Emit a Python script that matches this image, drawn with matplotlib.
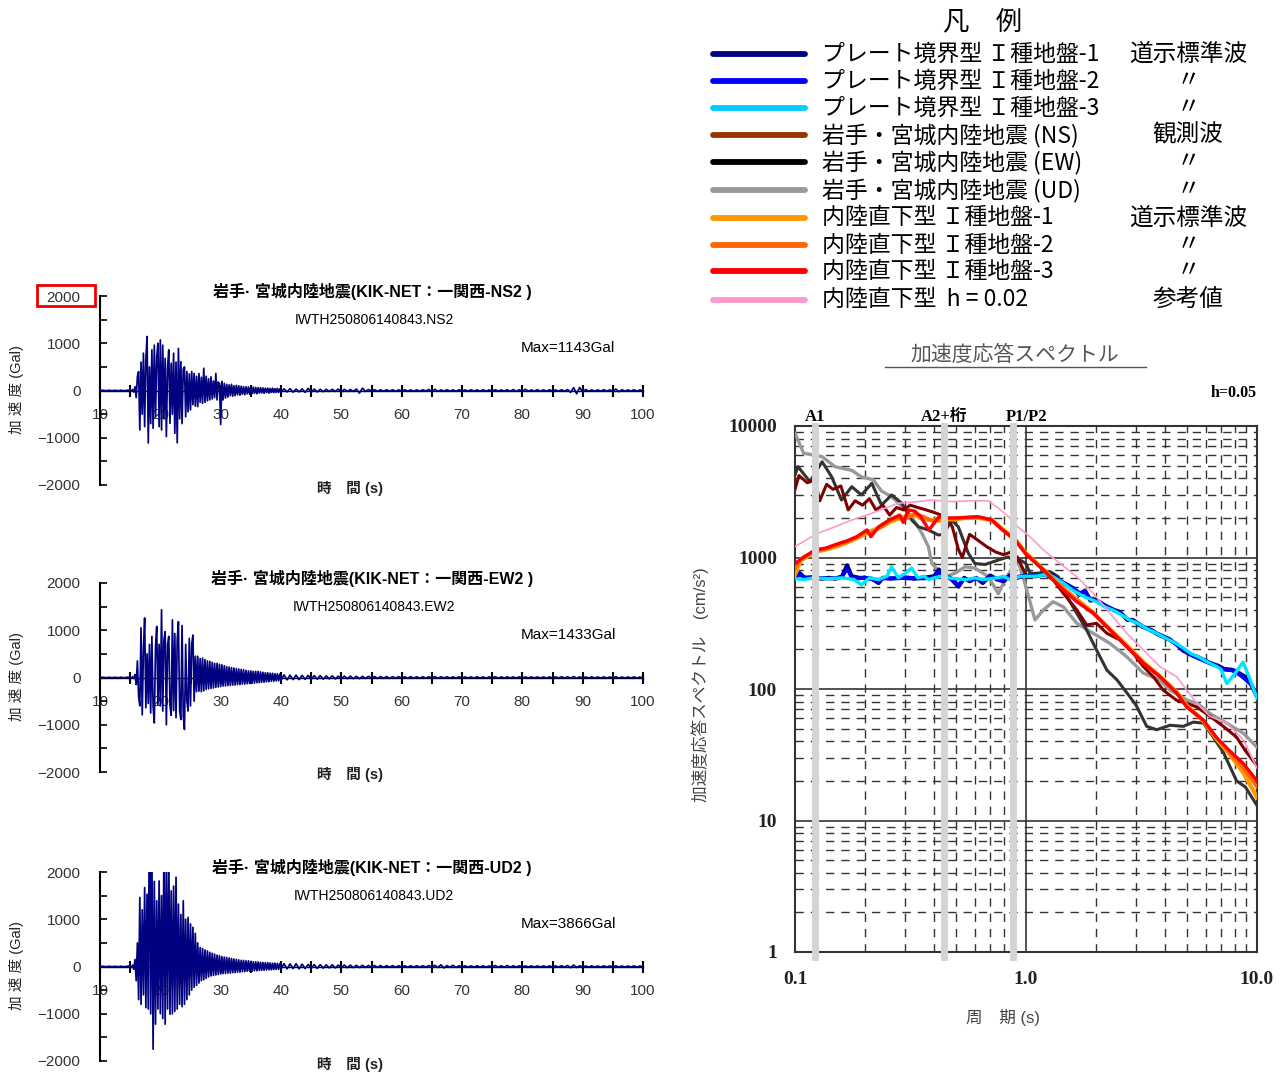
import numpy as np
import matplotlib
matplotlib.use('Agg')
import matplotlib.pyplot as plt
from matplotlib.patches import Rectangle
from matplotlib.lines import Line2D
from matplotlib.ticker import FixedLocator, FixedFormatter, NullFormatter, LogLocator

plt.rcParams['font.family'] = ['Liberation Sans', 'Noto Sans CJK JP']
plt.rcParams['axes.unicode_minus'] = True

# ---------------- waveform data (Gal) ----------------
wave_pre = [0, 5, -5, 5, -5, 5, -5, 5, -5, 5]          # 10.0 .. 14.5 s, step 0.5

ns_main = [10, -15, 20, -30, 80, -150, 300, 400, -835, 600,
           -500, 790, -765, 650, 1143, -1110, 500, -700, 860, -800,
           960, -555, 700, 1000, -765, 1070, -835, 960, -600, 680,
           -975, 500, 860, -695, 575, -500, 790, -905, 600, -1105,
           890, -600, 610, -700, 450, 500, -555, 400, -450, 350,
           -410, 400, -300, 360, -330, 300, -340, 360, -250, 280,
           -270, 470, -250, 300, -220, 250, -200, 290, -180, 200,
           -150, 360, -200, 180, 150, -720, 190, -200, 150, -160,
           130, -140, 120, -110, 130, -120, 100, -110, 110, -90,
           100, -100, 90, -80, 80, -90, 80, -70, 75, -80,
           70, -65, 70, -60, 65, -70, 60, -55, 60, -50,
           55, -60, 50, -45, 50, -55, 45, -40, 50, -45,
           40, -40, 45, -40, 35, -40]
ns_tail = [35, -30, 40, -35, 30, -30, 35, -40, 45, -35,
           30, -30, 25, -25, 25, -20, 25, -20, 30, -35,
           25, -20, 20, -20, 30, -55, 50, -20, 20, -15,
           18, -15, 15, -15, 15, -12, 15, -15, 12, -12,
           15, -12, 12, -15, 12, -12, 15, -12, 20, -25,
           25, -15, 12, -12, 15, -12, 12, -15, 15, -12,
           12, -12, 15, -12, 12, -12, 15, -12, 12, -12,
           15, -12, 12, -12, 15, -15, 20, -18, 15, -20,
           25, -15, 12, -12, 15, -12, 12, -12, 15, -12,
           12, -12, 15, -15, 20, -40, 60, -70, 65, -30,
           20, -15, 12, -12, 12, -12, 15, -12, 12, -15,
           30, -25, 15, -12, 12, -12, 15, -12, 12, -10]

ew_main = [10, -10, 15, -20, 60, -150, 350, -400, -600, 1050,
           -790, 600, 1260, -640, 500, -550, 700, -750, 870, -600,
           -960, 650, 1080, -570, 700, -600, 1433, -710, 800, 970,
           -1000, 700, 870, -600, -800, 1220, -700, 930, -850, 800,
           1180, -700, -890, 1100, -800, -1100, 700, -500, -710, 830,
           -600, 700, 900, -500, 450, -300, 450, -290, 400, -300,
           410, -280, 380, -250, 350, -240, 340, -230, 320, -220,
           300, -210, 300, -200, 280, -190, 270, -180, 250, -180,
           230, -170, 220, -170, 210, -160, 200, -160, 190, -150,
           180, -150, 170, -140, 165, -140, 150, -130, 140, -130,
           140, -120, 130, -120, 130, -110, 130, -110, 120, -100,
           110, -100, 100, -90, 100, -90, 90, -80, 90, -80,
           80, -70, 80, -70, 70, -60]
ew_tail = [55, -50, 50, -45, 50, -45, 45, -40, 45, -40,
           40, -35, 40, -35, 35, -30, 35, -30, 30, -30,
           30, -25, 30, -25, 25, -25, 25, -20, 25, -20,
           20, -20, 20, -18, 20, -18, 18, -15, 18, -15,
           15, -15, 18, -15, 15, -15, 15, -12, 15, -12,
           20, -18, 15, -12, 15, -12, 12, -12, 15, -12,
           12, -12, 12, -12, 15, -12, 12, -12, 12, -10,
           15, -12, 12, -10, 12, -10, 12, -12, 15, -12,
           12, -10, 12, -10, 12, -10, 10, -10, 12, -10,
           12, -10, 15, -12, 15, -15, 20, -15, 12, -10,
           10, -10, 12, -10, 10, -10, 12, -10, 10, -10,
           15, -12, 10, -10, 10, -10, 12, -10, 10, -8]

ud_main = [10, -20, 30, -60, 150, -300, 500, -700, 1460, -800,
           1200, -600, 1670, -870, 1530, -900, 3866, -1000, 2500, -1750,
           1800, -1220, 1390, -900, 1810, -1000, 1500, -1100, 2600, -1220,
           2200, -900, 2400, -1010, 1600, -1000, 1700, -950, 1890, -900,
           1320, -800, 1100, -850, 1390, -800, 1000, -700, 1040, -600,
           900, -500, 830, -440, 700, -400, 500, -350, 400, -300,
           380, -280, 350, -250, 330, -220, 300, -200, 280, -190,
           260, -180, 240, -170, 230, -160, 210, -150, 200, -150,
           190, -140, 180, -140, 170, -130, 160, -130, 150, -120,
           140, -120, 130, -110, 130, -110, 120, -100, 120, -100,
           110, -100, 100, -90, 100, -90, 95, -85, 90, -80,
           85, -80, 80, -75, 80, -70, 75, -70, 70, -65,
           70, -60, 65, -60, 60, -55]
ud_tail = [60, -50, 55, -45, 60, -50, 50, -45, 45, -40,
           40, -40, 40, -35, 35, -30, 35, -30, 30, -30,
           30, -25, 28, -25, 25, -22, 25, -20, 22, -20,
           20, -18, 20, -18, 18, -15, 18, -15, 15, -15,
           15, -15, 15, -12, 15, -12, 15, -12, 18, -15,
           25, -20, 35, -30, 20, -15, 25, -20, 15, -12,
           15, -12, 12, -12, 15, -12, 12, -12, 12, -10,
           20, -15, 15, -12, 20, -15, 15, -12, 15, -12,
           12, -10, 12, -10, 12, -10, 12, -10, 12, -10,
           12, -10, 15, -12, 20, -25, 30, -20, 15, -12,
           10, -10, 12, -10, 10, -10, 12, -10, 10, -10,
           12, -10, 10, -10, 10, -10, 12, -10, 10, -8]

wave_titles = ['岩手· 宮城内陸地震(KIK-NET：一関西-NS2 )',
               '岩手· 宮城内陸地震(KIK-NET：一関西-EW2 )',
               '岩手· 宮城内陸地震(KIK-NET：一関西-UD2 )']
wave_files = ['IWTH250806140843.NS2', 'IWTH250806140843.EW2', 'IWTH250806140843.UD2']
wave_max = ['Max=1143Gal', 'Max=1433Gal', 'Max=3866Gal']
wave_xticks = [10, 20, 30, 40, 50, 60, 70, 80, 90, 100]
wave_yticks = [-2000, -1000, 0, 1000, 2000]

# ---------------- response spectrum data (cm/s^2) ----------------
T_ud = [0.100, 0.109, 0.122, 0.131, 0.149, 0.176, 0.194, 0.218, 0.237, 0.262, 0.290, 0.320,
        0.354, 0.378, 0.391, 0.417, 0.446, 0.493, 0.545, 0.601, 0.687, 0.759, 0.811, 0.860,
        0.920, 0.974, 1.094, 1.19, 1.31, 1.45, 1.66, 1.955, 2.31, 2.73, 3.22, 3.80, 4.2,
        5.0, 5.5, 6.26, 7.39, 8.74, 10.0]
S_ud = [8800, 6200, 6000, 5850, 4900, 4600, 4100, 3900, 3200, 2900, 2450, 2050,
        1530, 1210, 900, 800, 715, 760, 850, 830, 715, 530, 675, 800,
        950, 700, 335, 400, 461, 422, 316, 265, 222, 176, 132, 117, 98,
        82, 78, 65, 55, 46, 36]

T_ew = [0.100, 0.103, 0.116, 0.131, 0.144, 0.159, 0.176, 0.194, 0.215, 0.237, 0.262, 0.290,
        0.320, 0.342, 0.378, 0.417, 0.440, 0.476, 0.509, 0.563, 0.601, 0.665, 0.759, 0.838,
        0.896, 0.950, 1.00, 1.04, 1.11, 1.27, 1.38, 1.45, 1.66, 1.83, 2.02, 2.24, 2.48,
        2.82, 3.0, 3.33, 3.68, 4.20, 4.80, 5.30, 5.86, 6.47, 7.15, 8.16, 8.9, 10.0]
S_ew = [4240, 4910, 3775, 5350, 4120, 2735, 3455, 2990, 3665, 2505, 2990, 2585,
        1928, 1714, 1620, 1483, 1500, 1928, 1714, 1076, 900, 885, 957, 1010,
        930, 950, 900, 760, 758, 782, 714, 566, 376, 281, 198, 139, 117,
        87, 75, 52, 49, 53, 52, 56, 55, 43, 33, 20, 18, 13]

T_ns = [0.100, 0.104, 0.113, 0.122, 0.128, 0.137, 0.146, 0.158, 0.170, 0.182, 0.196, 0.210,
        0.224, 0.240, 0.257, 0.275, 0.295, 0.315, 0.340, 0.370, 0.400, 0.430, 0.460, 0.480,
        0.510, 0.530, 0.570, 0.620, 0.680, 0.740, 0.800, 0.860, 0.920, 1.007, 1.11, 1.19,
        1.31, 1.45, 1.66, 1.83, 2.02, 2.24, 2.55, 2.91, 3.22, 3.56, 3.93, 4.49, 4.96, 5.48,
        6.26, 7.15, 8.16, 8.9, 10.0]
S_ns = [3300, 4200, 3700, 3900, 2700, 3600, 3300, 3500, 2300, 2700, 2500, 2800,
        2300, 2500, 2100, 2400, 2300, 2500, 2400, 2300, 2200, 2100, 2000, 1700,
        1150, 1000, 1500, 1350, 1200, 1100, 1050, 1100, 1000, 714, 736, 758,
        675, 535, 399, 307, 316, 265, 236, 187, 148, 124, 98, 82, 78, 73,
        62, 52, 43, 34, 26]

T_pl1 = [0.100, 0.105, 0.110, 0.120, 0.130, 0.140, 0.150, 0.160, 0.168, 0.176, 0.190, 0.200,
         0.215, 0.230, 0.240, 0.260, 0.280, 0.300, 0.330, 0.360, 0.400, 0.420, 0.440, 0.470,
         0.510, 0.540, 0.570, 0.610, 0.650, 0.700, 0.750, 0.800, 0.850, 0.900, 0.950, 1.00,
         1.10, 1.20, 1.30, 1.45, 1.60, 1.70, 1.80, 1.90, 2.00, 2.20, 2.40, 2.55, 2.75, 2.90,
         3.20, 3.50, 3.70, 4.20, 4.50, 4.80, 5.20, 5.50, 6.30, 6.80, 7.20, 7.80, 8.20, 8.80,
         9.40, 10.0]
S_pl1 = [720, 760, 700, 710, 690, 700, 690, 720, 870, 720, 700, 700,
         690, 640, 700, 690, 700, 700, 690, 700, 720, 810, 720, 700,
         600, 700, 660, 700, 640, 730, 680, 660, 730, 700, 720, 730,
         720, 750, 730, 640, 580, 520, 560, 470, 480, 430, 400, 385, 335, 335,
         297, 280, 262, 236, 218, 195, 182, 176, 157, 150, 142, 140, 135, 125,
         110, 88]
S_pl2 = [700, 740, 710, 690, 700, 690, 700, 710, 820, 700, 690, 710,
         680, 660, 690, 700, 690, 710, 700, 690, 700, 780, 700, 690,
         620, 690, 670, 690, 660, 720, 690, 670, 720, 690, 710, 720,
         730, 740, 720, 650, 590, 540, 550, 480, 470, 435, 395, 380, 340, 330,
         300, 275, 265, 240, 215, 200, 180, 172, 155, 148, 140, 138, 132, 120,
         108, 90]

T_pl3 = [0.100, 0.110, 0.120, 0.140, 0.160, 0.180, 0.194, 0.210, 0.230, 0.250, 0.262, 0.280,
         0.300, 0.320, 0.340, 0.360, 0.380, 0.400, 0.430, 0.460, 0.500, 0.550, 0.600, 0.650,
         0.700, 0.750, 0.800, 0.850, 0.900, 0.950, 1.00, 1.10, 1.20, 1.30, 1.45, 1.60, 1.80,
         2.00, 2.20, 2.40, 2.60, 2.80, 3.00, 3.30, 3.60, 4.00, 4.40, 4.80, 5.20, 5.60, 6.20,
         6.70, 7.00, 7.40, 8.00, 8.70, 9.30, 10.0]
S_pl3 = [690, 680, 700, 690, 700, 680, 620, 700, 680, 720, 850, 700,
         760, 830, 700, 720, 680, 700, 720, 700, 690, 680, 700, 680,
         690, 700, 720, 680, 700, 720, 720, 720, 740, 720, 640, 560, 500,
         465, 420, 395, 365, 335, 320, 290, 270, 245, 225, 205, 185, 175, 158,
         148, 140, 110, 130, 160, 120, 85]

T_in = [0.100, 0.106, 0.122, 0.136, 0.149, 0.168, 0.185, 0.200, 0.215, 0.235, 0.256, 0.275,
        0.300, 0.330, 0.360, 0.390, 0.420, 0.450, 0.500, 0.550, 0.620, 0.710, 0.790, 0.896,
        1.000, 1.19, 1.40, 1.66, 1.955, 2.31, 2.73, 3.22, 3.80, 4.49, 4.96, 5.86, 6.66,
        7.60, 8.74, 10.0]
S_in1 = [740, 950, 1100, 1150, 1200, 1300, 1400, 1500, 1600, 1700, 1850, 1950,
         2050, 2100, 1950, 1930, 1900, 1950, 1950, 2000, 2000, 1930, 1650, 1380,
         1080, 810, 620, 480, 380, 285, 215, 160, 125, 95, 75, 57, 42,
         32, 23, 15]
S_in2 = [820, 980, 1120, 1160, 1230, 1320, 1420, 1560, 1550, 1690, 1900, 2000,
         1950, 2150, 2050, 1900, 1950, 1980, 1980, 2010, 2020, 1940, 1640, 1370,
         1070, 805, 610, 470, 378, 283, 212, 158, 124, 94, 74, 57, 43,
         33, 25, 18]
T_in3 = [0.100, 0.110, 0.122, 0.136, 0.149, 0.168, 0.185, 0.205, 0.213, 0.230, 0.256, 0.284,
         0.294, 0.310, 0.330, 0.350, 0.380, 0.420, 0.450, 0.500, 0.550, 0.620, 0.710, 0.790,
         0.896, 1.000, 1.19, 1.40, 1.66, 1.955, 2.31, 2.73, 3.22, 3.80, 4.49, 4.96, 5.86,
         6.66, 7.60, 8.74, 10.0]
S_in3 = [900, 1015, 1140, 1180, 1250, 1340, 1440, 1620, 1440, 1710, 1930, 2100,
         1850, 2300, 2250, 2045, 1620, 2045, 2000, 2000, 2020, 2045, 1930, 1620,
         1360, 1060, 803, 600, 461, 377, 281, 210, 157, 124, 93, 73, 58,
         43, 34, 27, 20]

T_ref = [0.100, 0.125, 0.149, 0.176, 0.215, 0.245, 0.280, 0.340, 0.390, 0.476, 0.580, 0.687,
         0.760, 0.840, 0.920, 1.04, 1.19, 1.40, 1.66, 1.955, 2.31, 2.73, 3.22, 3.80, 4.49,
         5.48, 6.26, 7.39, 8.74, 10.0]
S_ref = [1210, 1525, 1714, 1928, 2170, 2370, 2585, 2660, 2735, 2660, 2700, 2700,
         2370, 2045, 1714, 1440, 1140, 903, 714, 535, 377, 265, 198, 148, 124,
         78, 62, 55, 41, 25]

band_periods = [0.122, 0.442, 0.879]
band_labels = ['A1', 'A2+桁', 'P1/P2']

legend_left = ['プレート境界型 Ｉ種地盤-1', 'プレート境界型 Ｉ種地盤-2', 'プレート境界型 Ｉ種地盤-3',
               '岩手・宮城内陸地震 (NS)', '岩手・宮城内陸地震 (EW)', '岩手・宮城内陸地震 (UD)',
               '内陸直下型 Ｉ種地盤-1', '内陸直下型 Ｉ種地盤-2', '内陸直下型 Ｉ種地盤-3',
               '内陸直下型  h = 0.02']
legend_right = ['道示標準波', '〃', '〃', '観測波', '〃', '〃', '道示標準波', '〃', '〃', '参考値']
legend_colors = ['#000080', '#0000FF', '#00CCFF', '#993300', '#000000', '#999999',
                 '#FF9900', '#FF6600', '#FF0000', '#FF99CC']

# ---------------- figure ----------------
W, H = 1287, 1075
fig = plt.figure(figsize=(W / 100, H / 100), dpi=100)


def fx(x):
    return x / W


def fy(y):
    return 1 - y / H


def ptext(x, y, s, **kw):
    fig.text(fx(x), fy(y), s, **kw)


wave_sets = [(ns_main, ns_tail), (ew_main, ew_tail), (ud_main, ud_tail)]
panel_tops = [296, 583, 872]
for k, (main, tail) in enumerate(wave_sets):
    top = panel_tops[k]
    off = top - 296
    ax = fig.add_axes([fx(100), fy(top + 189), fx(643) - fx(100), 189 / H])
    t_pre = 10.0 + 0.5 * np.arange(len(wave_pre))
    t_main = 15.0 + 0.2 * np.arange(len(main))
    t_tail = 40.5 + 0.5 * np.arange(len(tail))
    t = np.concatenate([t_pre, t_main, t_tail])
    a = np.concatenate([wave_pre, main, tail])
    ax.plot(t, a, color='#000080', lw=1.25, zorder=3)
    ax.set_xlim(10, 100)
    ax.set_ylim(-2000, 2000)
    for s in ['top', 'right']:
        ax.spines[s].set_visible(False)
    ax.spines['left'].set_linewidth(1.5)
    ax.spines['bottom'].set_position(('data', 0))
    ax.spines['bottom'].set_linewidth(1.0)
    ax.xaxis.set_major_locator(FixedLocator(wave_xticks))
    ax.xaxis.set_minor_locator(FixedLocator([v + 5 for v in wave_xticks[:-1]]))
    ax.yaxis.set_major_locator(FixedLocator(wave_yticks))
    ax.yaxis.set_minor_locator(FixedLocator([-1500, -500, 500, 1500]))
    ax.tick_params(axis='x', which='both', direction='inout', length=9, width=1.5,
                   labelsize=11, labelcolor='#333333', pad=8)
    ax.tick_params(axis='y', which='both', direction='in', length=5, width=1.2,
                   labelsize=11, labelcolor='#333333', pad=14)
    ax.patch.set_alpha(0)

    ptext(372, 291 + off, wave_titles[k], ha='center', va='center', fontsize=11.5,
          fontweight='bold')
    ptext(374, 320 + off, wave_files[k], ha='center', va='center', fontsize=10)
    ptext(521, 348 + off, wave_max[k], ha='left', va='center', fontsize=11)
    ptext(350, 488 + off, '時　間 (s)', ha='center', va='center', fontsize=10.5,
          fontweight='bold', color='#222222')
    ptext(17, 390 + off, '加 速 度 (Gal)', ha='center', va='center', fontsize=10.5,
          rotation=90, color='#222222')

# red box around the first "2000"
fig.add_artist(Rectangle((fx(37), fy(306)), fx(95) - fx(37), (306 - 285) / H,
                         transform=fig.transFigure, fill=False, edgecolor='#EE0000', lw=2))

# ---------------- spectrum ----------------
serif = ['Liberation Serif', 'Noto Sans CJK JP']
sx = fig.add_axes([fx(795), fy(952), (1257 - 795) / W, (952 - 426) / H])
sx.set_xscale('log')
sx.set_yscale('log')
sx.set_xlim(0.1, 10)
sx.set_ylim(1, 10000)
sx.xaxis.set_minor_locator(LogLocator(base=10, subs=range(2, 10)))
sx.yaxis.set_minor_locator(LogLocator(base=10, subs=range(2, 10)))
sx.grid(which='major', color='#333333', lw=1.2, ls='-')
sx.grid(which='minor', color='#333333', lw=1.0, ls=(0, (6, 5)))
sx.set_axisbelow(True)
for s in sx.spines.values():
    s.set_linewidth(1.5)
    s.set_color('#333333')
sx.xaxis.set_major_locator(FixedLocator([0.1, 1.0, 10.0]))
sx.xaxis.set_major_formatter(FixedFormatter(['0.1', '1.0', '10.0']))
sx.xaxis.set_minor_formatter(NullFormatter())
sx.yaxis.set_major_locator(FixedLocator([1, 10, 100, 1000, 10000]))
sx.yaxis.set_major_formatter(FixedFormatter(['1', '10', '100', '1000', '10000']))
sx.yaxis.set_minor_formatter(NullFormatter())
sx.tick_params(which='both', length=0)
sx.tick_params(axis='x', pad=14)
sx.tick_params(axis='y', pad=13)
for lab in sx.get_xticklabels() + sx.get_yticklabels():
    lab.set_family(serif)
    lab.set_fontsize(14)
    lab.set_fontweight('bold')
    lab.set_color('#222222')

sx.plot(T_ud, S_ud, color='#999999', lw=2.4, zorder=3)
sx.plot(T_ew, S_ew, color='#333333', lw=2.2, zorder=3)
sx.plot(T_ns, S_ns, color='#800000', lw=2.2, zorder=3)
sx.plot(T_pl1, S_pl1, color='#000080', lw=3.0, zorder=3)
sx.plot(T_pl1, S_pl2, color='#0000FF', lw=2.4, zorder=3)
sx.plot(T_pl3, S_pl3, color='#00E5FF', lw=2.4, zorder=3)
sx.plot(T_in, S_in1, color='#FF9900', lw=3.0, zorder=3)
sx.plot(T_in, S_in2, color='#FF6600', lw=2.4, zorder=3)
sx.plot(T_in3, S_in3, color='#FF0000', lw=2.4, zorder=3)
sx.plot(T_ref, S_ref, color='#FF99CC', lw=1.2, zorder=3)

for p in band_periods:
    sx.axvline(p, ymin=-0.01, ymax=1.0, color='#d4d4d4', lw=5, zorder=6, clip_on=False)

ptext(815, 417, band_labels[0], ha='center', va='center', fontsize=12, fontweight='bold', family=serif)
ptext(944, 417, band_labels[1], ha='center', va='center', fontsize=12, fontweight='bold', family=serif)
ptext(1027, 417, band_labels[2], ha='center', va='center', fontsize=12, fontweight='bold', family=serif)
ptext(1257, 393, 'h=0.05', ha='right', va='center', fontsize=11.5, fontweight='bold', family=serif)

ptext(1015, 355, '加速度応答スペクトル', ha='center', va='center', fontsize=15, color='#555555')
fig.add_artist(Line2D([fx(885), fx(1146)], [fy(367), fy(367)], transform=fig.transFigure,
                      color='#555555', lw=1.0))
ptext(700, 685, '加速度応答スペクトル　(cm/s²)', ha='center', va='center', fontsize=12,
      rotation=90, color='#444444')
ptext(1003, 1017, '周　期 (s)', ha='center', va='center', fontsize=12, color='#444444')

# ---------------- legend ----------------
ptext(983, 22, '凡　例', ha='center', va='center', fontsize=19, family=['Noto Sans CJK JP'])
legend_rows = [54, 81, 108, 135, 162, 190, 218, 245, 271, 300]
for y, lt, rt, c in zip(legend_rows, legend_left, legend_right, legend_colors):
    fig.add_artist(Line2D([fx(713), fx(805)], [fy(y), fy(y)], transform=fig.transFigure,
                          color=c, lw=4.2, solid_capstyle='round'))
    ptext(822, y, lt, ha='left', va='center', fontsize=16.5, family=['Noto Sans CJK JP'])
    ptext(1188, y, rt, ha='center', va='center', fontsize=17, family=['Noto Sans CJK JP'])

fig.savefig('out.png', dpi=100)
